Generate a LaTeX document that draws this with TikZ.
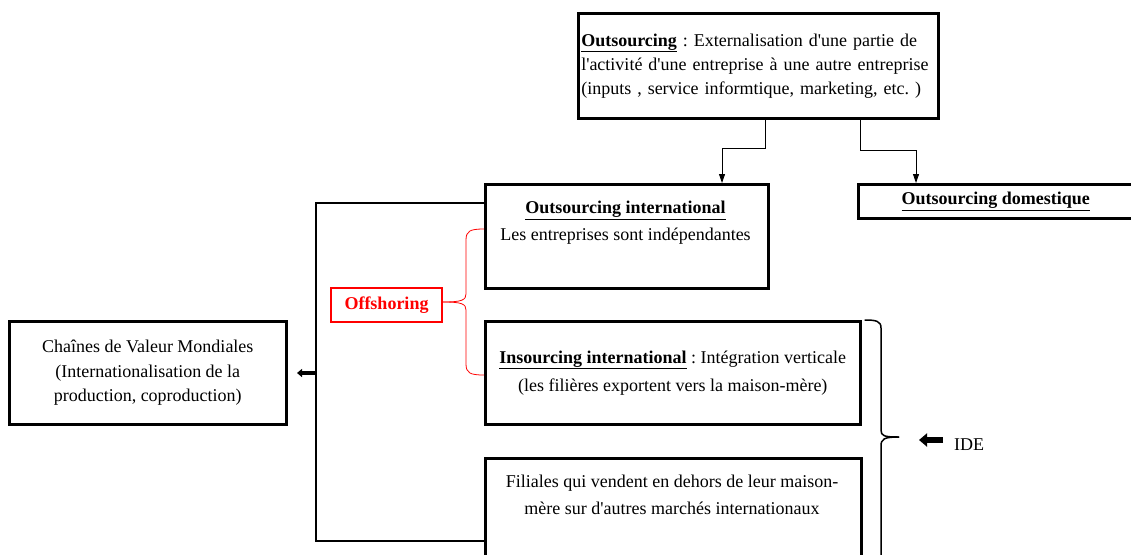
\documentclass[tikz,border=0pt]{standalone}
\usepackage{fontspec}
\setmainfont{Liberation Serif}
\usetikzlibrary{arrows.meta}
\frenchspacing
\tikzset{
  box/.style={draw, line width=2.5pt, inner sep=0pt, font=\fontsize{18}{24}\selectfont},
  txt/.style={inner sep=0pt, font=\fontsize{18}{27}\selectfont, align=center},
  thinarrow/.style={line width=0.8pt, -{Triangle[width=6pt,length=9pt]}},
  link/.style={line width=1.5pt},
}
\newcommand{\ub}[1]{\underline{\textbf{#1}}}
\newcommand{\ap}{\textquotesingle}
\begin{document}
\begin{tikzpicture}[x=1pt,y=-1pt]
\useasboundingbox (0,0) rectangle (1131,554);
% top box
\node[box, minimum width=360, minimum height=105, anchor=north west, align=left, text width=354] (out) at (577,12)
  {\ub{Outsourcing} : Externalisation d\ap une partie de\\l\ap activité d\ap une entreprise à une autre entreprise\\(inputs , service informtique, marketing, etc. )};
% outsourcing international
\node[box, minimum width=283, minimum height=104, anchor=north west] (oi) at (484,183) {};
\node[txt] (oit) at (625.5,223) {\ub{Outsourcing international}\\Les entreprises sont indépendantes};
% outsourcing domestique
\node[box, minimum width=275, minimum height=34, anchor=north west] (od) at (857,183) {\ub{Outsourcing domestique}};
% insourcing
\node[box, minimum width=375, minimum height=103, anchor=north west, align=center, font=\fontsize{18}{28}\selectfont] (ins) at (484,320)
  {\ub{Insourcing international} : Intégration verticale\\(les filières exportent vers la maison-mère)};
% filiales
\node[box, minimum width=376, minimum height=110, anchor=north west] (fil) at (484,457) {};
\node[txt] (filt) at (672,494.5) {Filiales qui vendent en dehors de leur maison-\\mère sur d\ap autres marchés internationaux};
% CVM
\node[box, minimum width=277, minimum height=103, anchor=north west, align=center, font=\fontsize{18}{24.5}\selectfont] (cvm) at (8,320)
  {Chaînes de Valeur Mondiales\\(Internationalisation de la\\production, coproduction)};
% offshoring
\node[draw=red, line width=2pt, text=red, minimum width=111, minimum height=34, inner sep=0pt, anchor=north west, font=\fontsize{18}{20}\selectfont\bfseries] (off) at (330,287) {Offshoring};

% arrows from top box
\coordinate (a1) at (765,117);
\coordinate (a2) at (860,117);
\draw[thinarrow] (a1) -- (765,148) -- (722,148) -- (oi.north -| 722,0);
\draw[thinarrow] (a2) -- (860,150) -- (916,150) -- (od.north -| 916,0);

% bracket line to CVM
\draw[link] (oi.west |- 0,203) -- (316,203) -- (316,541) -- (fil.west |- 0,541);
\coordinate (jn) at (316,373);
\draw[line width=3.5pt, -{Triangle[width=8pt,length=5pt]}] (jn) -- ++(-19,0);
% red brace
\draw[red, line width=0.8pt] (oi.west |- 0,229) .. controls (470,229) and (466,231) .. (466,240)
  -- (466,294) .. controls (466,300) and (462,302) .. (off.east |- 0,302);
\draw[red, line width=0.8pt] (off.east |- 0,302) .. controls (462,302) and (466,304) .. (466,310)
  -- (466,364) .. controls (466,373) and (470,375) .. (ins.west |- 0,375);
% black brace
\draw[line width=1.5pt] (ins.north east) ++(3,0) .. controls (876,320) and (881,321) .. (881,328)
  -- (881,430) .. controls (881,436) and (884,437) .. (899,437);
\draw[line width=1.5pt] (899,437) .. controls (884,437) and (881,439) .. (881,446) -- (881,556);
% IDE
\node[txt, anchor=west] (ide) at (954,445) {IDE};
\draw[line width=6pt, -{Triangle[width=13pt,length=8pt]}] (ide.west) ++(-11,-5) -- ++(-24,0);
\end{tikzpicture}
\end{document}
